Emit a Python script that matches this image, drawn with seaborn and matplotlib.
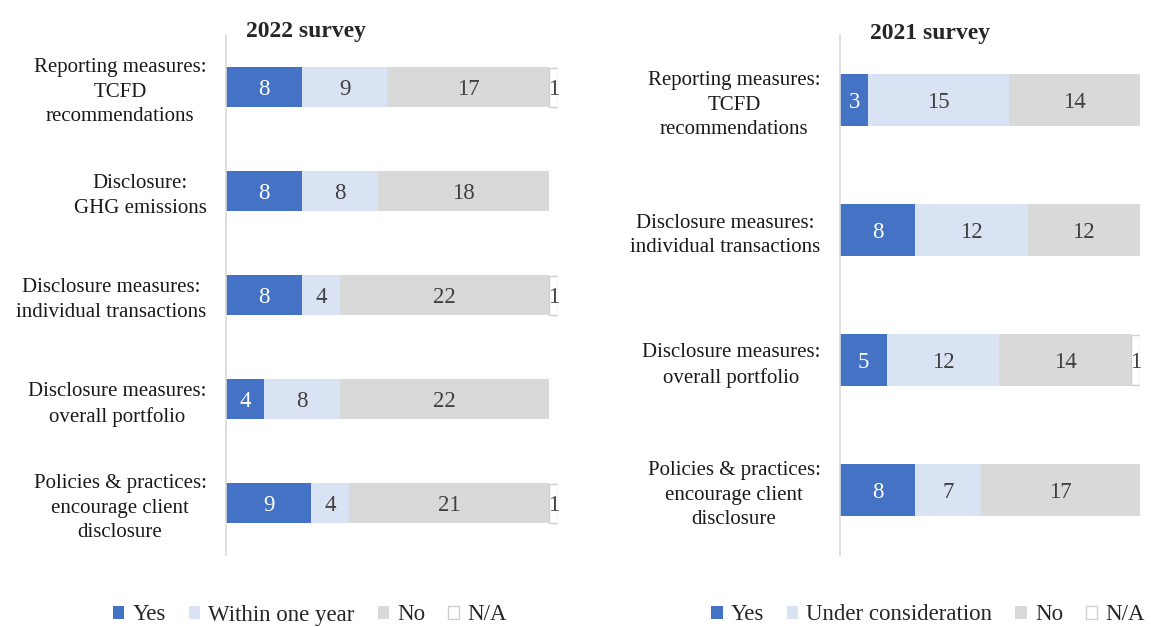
import numpy as np
import pandas as pd
import matplotlib
matplotlib.use("Agg")
import matplotlib.pyplot as plt
from matplotlib.patches import Patch
import seaborn as sns

# ---- data ----
cats_2022 = ["Reporting measures:\nTCFD\nrecommendations",
             "Disclosure:\nGHG emissions",
             "Disclosure measures:\nindividual transactions",
             "Disclosure measures:\noverall portfolio",
             "Policies & practices:\nencourage client\ndisclosure"]
yes_2022 = [8, 8, 8, 4, 9]
within_2022 = [9, 8, 4, 8, 4]
no_2022 = [17, 18, 22, 22, 21]
na_2022 = [1, 0, 1, 0, 1]
series_2022 = ["Yes", "Within one year", "No", "N/A"]

cats_2021 = ["Reporting measures:\nTCFD\nrecommendations",
             "Disclosure measures:\nindividual transactions",
             "Disclosure measures:\noverall portfolio",
             "Policies & practices:\nencourage client\ndisclosure"]
yes_2021 = [3, 8, 5, 8]
under_2021 = [15, 12, 12, 7]
no_2021 = [14, 12, 14, 17]
na_2021 = [0, 0, 1, 0]
series_2021 = ["Yes", "Under consideration", "No", "N/A"]

C_YES = "#4472C4"
C_MID = "#DAE3F3"
C_NO = "#D9D9D9"
C_NA = "white"
C_NA_EDGE = "#D0D0D0"

sns.set_theme(style="white")
plt.rcParams["font.family"] = ["Liberation Serif", "DejaVu Serif"]

fig = plt.figure(figsize=(11.51, 6.27), dpi=100)
ax1 = fig.add_axes([226/1151, 1-555/627, 332/1151, 520/627])
ax2 = fig.add_axes([840/1151, 1-555/627, 300/1151, 520/627])


def draw(ax, cats, yes, mid, no, na, width, xmax):
    yes = np.array(yes); mid = np.array(mid); no = np.array(no); na = np.array(na)
    c1 = yes
    c2 = yes + mid
    c3 = c2 + no
    df = pd.DataFrame({"cat": cats, "c1": c1, "c2": c2, "c3": c3})
    common = dict(y="cat", data=df, order=cats, orient="h", width=width,
                  saturation=1, errorbar=None, linewidth=0, ax=ax)
    sns.barplot(x="c3", color=C_NO, **common)
    sns.barplot(x="c2", color=C_MID, **common)
    sns.barplot(x="c1", color=C_YES, **common)
    # N/A segments (white with thin grey outline)
    idx = np.arange(len(cats))
    m = na > 0
    ax.barh(idx[m], na[m], left=c3[m], height=width - 0.01, color=C_NA,
            edgecolor=C_NA_EDGE, linewidth=1.0)
    for i in range(len(cats)):
        segs = [(c1[i], yes[i], "white"), (c2[i], mid[i], "#404040"),
                (c3[i], no[i], "#404040"), (c3[i] + na[i], na[i], "#404040")]
        for cum, v, col in segs:
            if v > 0:
                ax.text(cum - v / 2, i, str(v), ha="center",
                        va="center_baseline", color=col, fontsize=16.5)
    ax.set_xlim(0, xmax)
    ax.set_ylim(len(cats) - 0.5, -0.5)
    ax.set_xlabel("")
    ax.set_ylabel("")
    ax.set_xticks([])
    for s in ["top", "right", "bottom"]:
        ax.spines[s].set_visible(False)
    ax.spines["left"].set_color("#D9D9D9")
    ax.spines["left"].set_linewidth(1.2)
    ax.tick_params(axis="y", length=0, pad=14)
    for lab in ax.get_yticklabels():
        lab.set_multialignment("center")
        lab.set_fontsize(15)
        lab.set_color("#1a1a1a")
        lab.set_linespacing(1.38)


draw(ax1, cats_2022, yes_2022, within_2022, no_2022, na_2022, 0.385, 35)
draw(ax2, cats_2021, yes_2021, under_2021, no_2021, na_2021, 0.40, 32)

fig.text(306/1151, 1-31/627, "2022 survey", ha="center", va="center",
         fontsize=17, fontweight="bold")
fig.text(930/1151, 1-33/627, "2021 survey", ha="center", va="center",
         fontsize=17, fontweight="bold")


def legend(labels, xc):
    cols = [C_YES, C_MID, C_NO, C_NA]
    handles = [Patch(facecolor=c, edgecolor=(C_NA_EDGE if c == C_NA else c),
                     linewidth=1 if c == C_NA else 0) for c in cols]
    fig.legend(handles, labels, loc="center", bbox_to_anchor=(xc, 1-615/627),
               ncol=4, frameon=False, fontsize=16.5, handlelength=0.5,
               handleheight=0.5, handletextpad=0.35, columnspacing=1.0,
               borderaxespad=0, borderpad=0)


legend(series_2022, 310/1151)
legend(series_2021, 928/1151)

fig.savefig("out.png", dpi=100)
